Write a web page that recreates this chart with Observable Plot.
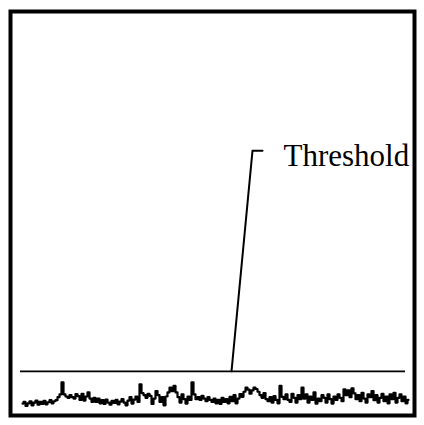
<!DOCTYPE html>
<html>
<head>
<meta charset="utf-8">
<script src="https://cdn.jsdelivr.net/npm/d3@7"></script>
<script src="https://cdn.jsdelivr.net/npm/@observablehq/plot@0.6"></script>
<style>
  html, body { margin: 0; padding: 0; background: #fff; }
  svg { display: block; }
</style>
</head>
<body>
<div id="chart"></div>
<script>
// Signal amplitude samples
const signal = [
  0.05,0.1,-0.02,0.06,0.12,0.0,0.08,0.14,0.02,0.1,0.04,0.13,0.03,0.09,0.15,0.06,0.12,
  0.15,0.24,0.32,
  0.68,
  0.32,0.26,0.22,0.3,0.24,0.2,0.33,0.27,0.16,0.34,0.14,0.26,0.38,0.2,0.1,0.22,
  0.1,0.2,0.06,0.15,0.04,0.17,0.08,0.02,0.13,0.07,0.16,0.03,0.11,0.18,0.08,0.0,0.14,0.24,0.05,0.17,0.26,0.1,
  0.62,
  0.36,0.3,0.22,0.34,0.28,0.04,0.2,0.42,0.3,0.1,0.24,0.0,0.26,0.38,
  0.52,0.42,0.57,0.38,
  0.24,0.08,0.32,0.18,0.05,0.26,0.16,
  0.68,
  0.32,0.18,0.24,0.16,0.28,0.2,0.12,0.24,0.16,
  0.1,0.2,0.06,0.16,0.04,0.22,0.1,0.18,0.06,0.25,0.12,0.3,0.06,0.2,0.33,0.25,
  0.4,0.52,0.46,0.34,0.44,0.52,0.48,0.4,0.3,0.22,0.36,
  0.18,0.12,0.24,0.08,0.27,0.16,0.06,
  0.57,
  0.25,0.18,0.32,0.16,0.1,0.34,0.22,0.08,0.3,0.18,
  0.52,
  0.2,0.32,0.08,0.26,0.16,0.38,0.05,0.2,0.12,0.3,0.22,0.08,0.32,0.18,0.05,0.26,0.16,0.32,0.22,0.12,
  0.47,0.3,0.44,0.24,0.5,0.35,
  0.18,0.3,0.12,0.37,0.2,0.08,0.32,0.24,0.42,0.15,0.3,0.08,0.22,0.34,0.12,0.26,0.06,0.32,0.18,0.37,0.08,0.22,0.32,0.12,0.26,0.06,0.16
];
const thresholdValue = 1;
const annotationLabel = "Threshold";

const samples = signal.map((v, i) => ({i, v}));
const N = signal.length;

// annotation geometry (in data units)
const leader = [
  {x: 104.5, y: thresholdValue},
  {x: 115, y: 7.5},
  {x: 120, y: 7.5}
];
const labelPos = [{x: 130.5, y: 7.06, text: annotationLabel}];

const chart = Plot.plot({
  width: 424,
  height: 425,
  marginLeft: 10,
  marginRight: 10,
  marginTop: 11,
  marginBottom: 10,
  x: {axis: null, domain: [-6, N + 2]},
  y: {axis: null, domain: [-0.3, 11.6]},
  style: {background: "#fff"},
  marks: [
    Plot.line(samples, {x: "i", y: "v", curve: "step", stroke: "#000", strokeWidth: 2.2}),
    Plot.ruleY([thresholdValue], {x1: -1, x2: 191.5, stroke: "#000", strokeWidth: 1.8}),
    Plot.line(leader, {x: "x", y: "y", stroke: "#000", strokeWidth: 2}),
    Plot.text(labelPos, {x: "x", y: "y", text: "text", textAnchor: "start", lineAnchor: "bottom",
      fontFamily: "'Liberation Serif', 'Times New Roman', serif", fontSize: 31, fill: "#000"}),
    Plot.frame({stroke: "#000", strokeWidth: 4})
  ]
});
document.getElementById("chart").appendChild(chart);
</script>
</body>
</html>
